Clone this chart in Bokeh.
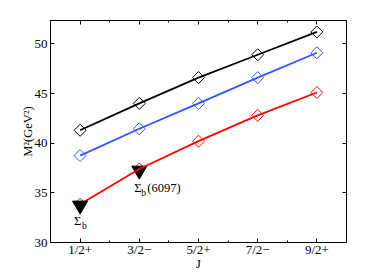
from bokeh.plotting import figure
from bokeh.models import FixedTicker, LinearAxis, Range1d
from bokeh.core.properties import value
from bokeh.embed import file_html
from bokeh.resources import INLINE
import math

# Data
j_labels = ["1/2+", "3/2\u2212", "5/2+", "7/2\u2212", "9/2+"]
j_pos = [1, 2, 3, 4, 5]
black_vals = [41.3, 44.0, 46.6, 48.9, 51.2]
blue_vals = [38.75, 41.45, 44.0, 46.6, 49.1]
red_vals = [33.85, 37.4, 40.2, 42.8, 45.1]
exp_x = [1, 2]
exp_vals = [33.73, 37.25]
exp_names = ["\u03a3", "\u03a3"]
exp_sub = ["b", "b"]
exp_suffix = ["", "(6097)"]

FONT = "Liberation Serif"

p = figure(width=382, height=273, output_backend="svg", toolbar_location=None,
           x_range=Range1d(0.5, 5.5), y_range=Range1d(30, 52.35),
           min_border_left=50, min_border_right=36, min_border_top=20, min_border_bottom=31)
p.frame_width = 296
p.frame_height = 222
p.background_fill_color = "white"
p.border_fill_color = "white"
p.outline_line_color = "black"
p.outline_line_width = 1
p.xgrid.visible = False
p.ygrid.visible = False

def style_axis(ax, labels=True):
    ax.axis_line_color = "black"
    ax.major_tick_in = 4
    ax.major_tick_out = 0
    ax.minor_tick_in = 2
    ax.minor_tick_out = 0
    ax.major_tick_line_color = "black"
    ax.minor_tick_line_color = "black"
    ax.major_label_text_font = FONT
    ax.major_label_text_font_size = "13px"
    ax.major_label_text_color = "black"
    ax.axis_label_text_font = FONT
    ax.axis_label_text_font_size = "12.5px"
    ax.axis_label_text_font_style = "normal"
    ax.axis_label_text_color = "black"
    if not labels:
        ax.major_label_text_font_size = "0px"
        ax.major_label_text_alpha = 0
        ax.major_label_standoff = 0

xt = FixedTicker(ticks=j_pos, minor_ticks=[1.5, 2.5, 3.5, 4.5])
yt = FixedTicker(ticks=[30, 35, 40, 45, 50], minor_ticks=[])

p.xaxis.ticker = xt
p.xaxis.major_label_overrides = {k: v for k, v in zip(j_pos, j_labels)}
p.xaxis.axis_label = "J"
style_axis(p.xaxis[0])
style_axis(p.yaxis[0])
p.xaxis.axis_label_standoff = -3
p.xaxis.major_label_standoff = -1
p.yaxis.ticker = yt
p.yaxis.axis_label = "M\u00b2(GeV\u00b2)"
p.yaxis.axis_label_standoff = -3
p.yaxis.major_label_standoff = 3

top = LinearAxis(ticker=FixedTicker(ticks=j_pos, minor_ticks=[1.5, 2.5, 3.5, 4.5]))
right = LinearAxis(ticker=FixedTicker(ticks=[30, 35, 40, 45, 50], minor_ticks=[]))
style_axis(top, labels=False)
style_axis(right, labels=False)
p.add_layout(top, "above")
p.add_layout(right, "right")

# Red series; the Σb(6097) triangle lies under the red line, the Σb one on top
p.scatter(j_pos, red_vals, marker="square", angle=math.pi / 4, size=8.5,
          fill_color=None, line_color="#ff0000", line_width=1)
p.scatter(exp_x[1:], exp_vals[1:], marker="inverted_triangle", size=15,
          fill_color="black", line_color="black")
p.line(j_pos, red_vals, line_color="#ff0000", line_width=1.8)
p.scatter(exp_x[:1], exp_vals[:1], marker="inverted_triangle", size=15,
          fill_color="black", line_color="black")

for vals, col in [(blue_vals, "#3355ff"), (black_vals, "black")]:
    p.line(j_pos, vals, line_color=col, line_width=1.8)
    p.scatter(j_pos, vals, marker="square", angle=math.pi / 4, size=8.5,
              fill_color=None, line_color=col, line_width=1)

# Experimental labels
def tx(x, y, t, dx, dy, size):
    p.text([x], [y], text=[t], x_offset=dx, y_offset=dy,
           text_font=value(FONT), text_font_size=size, text_align="left",
           text_baseline="middle", text_color="black")

tx(exp_x[0], exp_vals[0], exp_names[0], -6, 16, "12.5px")
tx(exp_x[0], exp_vals[0], exp_sub[0], 2, 21, "9.5px")
tx(exp_x[1], exp_vals[1], exp_names[1], -5, 18, "12.5px")
tx(exp_x[1], exp_vals[1], exp_sub[1], 2, 23, "9.5px")
tx(exp_x[1], exp_vals[1], exp_suffix[1], 8, 18, "12.5px")

open("out.html", "w").write(file_html(p, INLINE))
